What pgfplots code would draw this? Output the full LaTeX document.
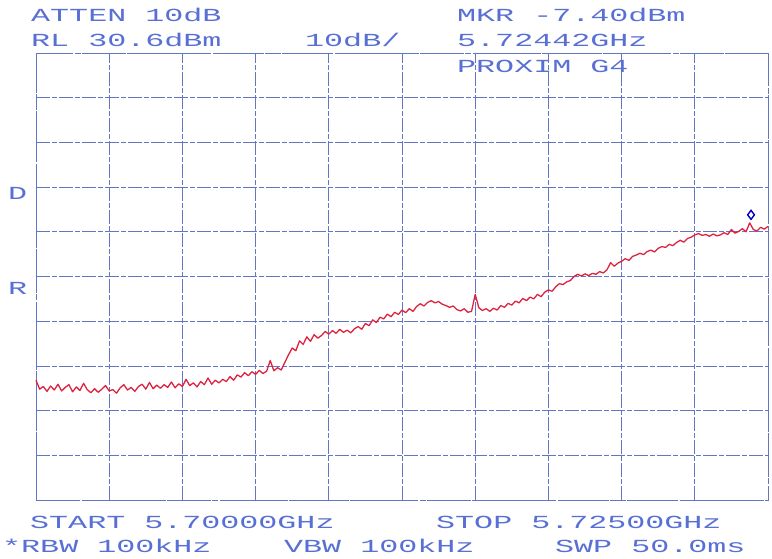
\documentclass[border=0pt]{standalone}
\usepackage{pgfplots}
\pgfplotsset{compat=1.18}
\usepackage{fontspec}
\newfontfamily\plotfont{Liberation Mono}
\definecolor{gridblue}{RGB}{100,118,195}
\definecolor{txtblue}{RGB}{88,112,212}
\definecolor{trace}{RGB}{222,35,65}
\newcommand{\txt}[3]{\node[anchor=west, inner sep=0pt, text=txtblue, font=\plotfont\fontsize{18.5}{18.5}\selectfont] at (#1bp,-#2bp) {\scalebox{1.72}[1]{#3}};}
\begin{document}
\begin{tikzpicture}
\useasboundingbox (0,0) rectangle (772bp,-559bp);
\begin{axis}[
  at={(36bp,-500bp)}, anchor=south west,
  scale only axis, width=732bp, height=447bp,
  xmin=0, xmax=25, ymin=-69.4, ymax=30.6,
  xtick={0,2.5,5,7.5,10,12.5,15,17.5,20,22.5,25},
  ytick={-69.4,-59.4,-49.4,-39.4,-29.4,-19.4,-9.4,0.6,10.6,20.6,30.6},
  xticklabels={}, yticklabels={},
  major tick length=0pt,
  grid=major,
  grid style={draw=gridblue, line width=0.7bp, dash pattern=on 14bp off 2bp on 5bp off 2bp},
  axis line style={draw=gridblue, line width=0.9bp, dash pattern=on 16bp off 2bp on 6bp off 2bp},
  clip=false,
]
\addplot[trace, line width=1.3bp, line join=round] table {
x y
0.000 -42.6
0.125 -44.6
0.250 -44.0
0.375 -45.1
0.500 -43.9
0.625 -44.8
0.750 -43.5
0.875 -45.0
1.000 -44.2
1.125 -43.6
1.250 -45.2
1.375 -44.1
1.500 -44.9
1.625 -43.3
1.750 -44.7
1.875 -45.4
2.000 -44.5
2.125 -45.3
2.250 -44.6
2.375 -43.8
2.500 -45.0
2.625 -44.7
2.750 -45.5
2.875 -44.3
3.000 -43.6
3.125 -44.8
3.250 -44.2
3.375 -45.1
3.500 -44.0
3.625 -43.5
3.750 -44.6
3.875 -43.1
4.000 -44.5
4.125 -43.7
4.250 -44.4
4.375 -43.6
4.500 -44.2
4.625 -43.0
4.750 -44.3
4.875 -43.4
5.000 -44.0
5.125 -42.4
5.250 -43.8
5.375 -43.2
5.500 -44.1
5.625 -42.9
5.750 -43.6
5.875 -42.1
6.000 -43.5
6.125 -42.6
6.250 -43.2
6.375 -42.4
6.500 -42.9
6.625 -41.8
6.750 -42.6
6.875 -41.4
7.000 -41.9
7.125 -40.9
7.250 -41.6
7.375 -40.7
7.500 -41.3
7.625 -40.4
7.750 -41.1
7.875 -40.6
8.000 -38.2
8.125 -40.5
8.250 -39.8
8.375 -40.3
8.500 -38.6
8.625 -36.9
8.750 -35.4
8.875 -36.0
9.000 -33.8
9.125 -34.6
9.250 -32.9
9.375 -33.9
9.500 -32.4
9.625 -33.2
9.750 -32.6
9.875 -31.7
10.000 -32.3
10.125 -31.5
10.250 -32.1
10.375 -31.2
10.500 -31.9
10.625 -31.4
10.750 -32.0
10.875 -31.1
11.000 -30.6
11.125 -31.2
11.250 -29.9
11.375 -30.4
11.500 -29.1
11.625 -29.7
11.750 -28.5
11.875 -28.9
12.000 -27.8
12.125 -28.4
12.250 -27.4
12.375 -27.9
12.500 -26.9
12.625 -27.5
12.750 -26.6
12.875 -27.2
13.000 -26.1
13.125 -25.5
13.250 -26.0
13.375 -25.2
13.500 -24.8
13.625 -25.3
13.750 -25.0
13.875 -25.6
14.000 -25.9
14.125 -26.3
14.250 -26.0
14.375 -26.8
14.500 -27.1
14.625 -26.6
14.750 -27.4
14.875 -27.2
15.000 -23.4
15.125 -26.4
15.250 -27.0
15.375 -26.6
15.500 -27.2
15.625 -26.5
15.750 -26.9
15.875 -25.9
16.000 -26.3
16.125 -25.4
16.250 -25.8
16.375 -24.9
16.500 -25.3
16.625 -24.3
16.750 -24.8
16.875 -24.0
17.000 -24.4
17.125 -23.4
17.250 -23.9
17.375 -22.9
17.500 -22.4
17.625 -22.7
17.750 -21.7
17.875 -21.0
18.000 -21.2
18.125 -20.6
18.250 -20.3
18.375 -19.4
18.500 -18.9
18.625 -19.3
18.750 -18.8
18.875 -19.2
19.000 -18.7
19.125 -18.9
19.250 -18.3
19.375 -18.6
19.500 -17.9
19.625 -16.3
19.750 -17.1
19.875 -16.4
20.000 -16.0
20.125 -15.4
20.250 -15.8
20.375 -14.9
20.500 -14.6
20.625 -14.2
20.750 -14.5
20.875 -13.8
21.000 -13.5
21.125 -13.9
21.250 -13.1
21.375 -12.7
21.500 -12.9
21.625 -12.2
21.750 -12.5
21.875 -11.8
22.000 -11.3
22.125 -11.7
22.250 -10.9
22.375 -10.6
22.500 -10.1
22.625 -9.8
22.750 -10.2
22.875 -10.0
23.000 -10.4
23.125 -9.9
23.250 -10.3
23.375 -10.1
23.500 -9.6
23.625 -10.0
23.750 -8.9
23.875 -9.7
24.000 -9.3
24.125 -8.7
24.250 -9.4
24.375 -7.4
24.500 -8.9
24.625 -9.2
24.750 -8.4
24.875 -8.8
25.000 -8.2
};
\addplot[only marks, mark=diamond, mark size=4.5bp, draw=blue!75!black, line width=1.4bp] coordinates {(24.42,-5.6)};
\end{axis}
\txt{31}{15}{ATTEN 10dB}
\txt{457}{15}{MKR -7.40dBm}
\txt{31}{40}{RL 30.6dBm}
\txt{305}{40}{10dB/}
\txt{457}{40}{5.72442GHz}
\txt{457}{66}{PROXIM G4}
\txt{8}{193}{D}
\txt{8}{288}{R}
\txt{30}{522}{START 5.70000GHz}
\txt{436}{522}{STOP 5.72500GHz}
\txt{2}{546}{*RBW 100kHz}
\txt{284}{546}{VBW 100kHz}
\txt{555}{546}{SWP 50.0ms}
\end{tikzpicture}
\end{document}
